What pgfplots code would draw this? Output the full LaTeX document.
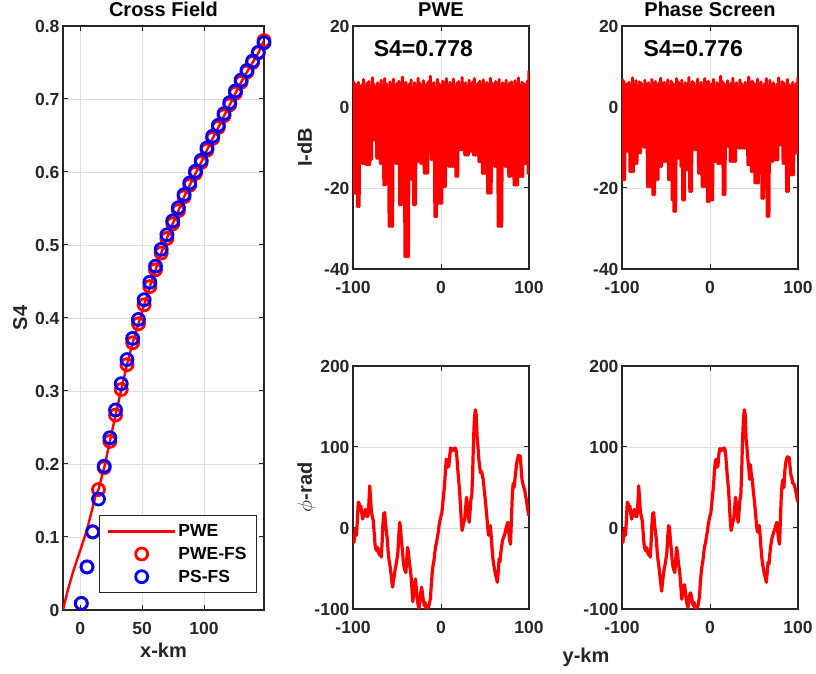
\documentclass[border=0pt]{standalone}
\usepackage{pgfplots}
\pgfplotsset{compat=1.18}
\usepackage{fontspec}
\setmainfont{Liberation Sans}
\definecolor{axgray}{RGB}{38,38,38}
\definecolor{gridgray}{RGB}{222,222,222}
\definecolor{mred}{RGB}{255,0,0}
\definecolor{mblue}{RGB}{0,0,255}
\pgfplotsset{
 mstyle/.style={
  scale only axis,
  axis line style={axgray, line width=1.2pt},
  tick style={axgray, line width=1pt},
  major tick length=5pt,
  tick align=inside,
  grid=major,
  major grid style={gridgray, line width=0.8pt},
  /pgf/number format/assume math mode=true,
  tick label style={font=\bfseries\fontsize{17.5}{20}\selectfont, text=axgray},
  label style={font=\bfseries\fontsize{20}{24}\selectfont, text=axgray},
  title style={font=\bfseries\fontsize{20}{24}\selectfont, text=black, anchor=base, at={(axis description cs:0.5,1)}, yshift=3pt},
  xticklabel style={anchor=base, yshift=-25pt},
 }
}
\begin{document}
\begin{tikzpicture}
\useasboundingbox (0pt,0pt) rectangle (816pt,674pt);
% ---------------- Cross Field ----------------
\begin{axis}[mstyle, at={(63pt,64pt)}, anchor=south west,
  width=201pt, height=584pt,
  xmin=-14, xmax=148.5, ymin=0, ymax=0.8,
  xtick={0,50,100}, ytick={0,0.1,0.2,0.3,0.4,0.5,0.6,0.7,0.8},
  yticklabels={0,0.1,0.2,0.3,0.4,0.5,0.6,0.7,0.8},
  title={Cross Field},
  xlabel={x-km}, ylabel={S4},
  xlabel style={at={(axis description cs:0.5,0)}, anchor=base, yshift=-48pt},
  ylabel style={at={(axis description cs:-0.179,0.5)}, anchor=base},
  legend style={at={(axis description cs:0.965,0.029)}, anchor=south east,
    draw=axgray, line width=1pt, fill=white,
    font=\bfseries\fontsize{17.5}{20}\selectfont, text=black,
    legend cell align=left, inner xsep=8pt, inner ysep=7pt, row sep=5pt},
  legend image code/.code={\draw[#1, mark repeat=2, mark phase=2] plot coordinates {(0pt,0pt) (33.5pt,0pt) (67pt,0pt)};},
]
\addplot[mred, line width=2.4pt, no marks, line join=round] coordinates {
(-14,0)(-10,0.028)(-5.4,0.055)(0,0.082)(5.4,0.11)(9.4,0.137)(12.6,0.158)(14.7,0.165)
(19.3,0.195)(23.9,0.231)(28.5,0.267)(33.1,0.302)(37.7,0.336)(42.3,0.366)(47.0,0.392)(51.6,0.418)(56.2,0.443)(60.8,0.466)(65.4,0.489)(70.0,0.509)(74.7,0.529)(79.3,0.547)(83.9,0.566)(88.5,0.582)(93.1,0.598)(97.7,0.613)(102.4,0.630)(107.0,0.646)(111.6,0.661)(116.2,0.677)(120.8,0.692)(125.4,0.708)(130.0,0.723)(134.7,0.737)(139.3,0.750)(143.9,0.763)(148.5,0.780)};
\addlegendentry{PWE}
\addplot[mred, only marks, mark=o, mark size=6pt, line width=2.8pt] coordinates {
(0.8,0.009)(5.4,0.059)(10.0,0.107)(14.7,0.165)(19.3,0.195)(23.9,0.231)(28.5,0.267)(33.1,0.302)(37.7,0.336)(42.3,0.366)(47.0,0.392)(51.6,0.418)(56.2,0.443)(60.8,0.466)(65.4,0.489)(70.0,0.509)(74.7,0.529)(79.3,0.547)(83.9,0.566)(88.5,0.582)(93.1,0.598)(97.7,0.613)(102.4,0.630)(107.0,0.646)(111.6,0.661)(116.2,0.677)(120.8,0.692)(125.4,0.708)(130.0,0.723)(134.7,0.737)(139.3,0.750)(143.9,0.763)(148.5,0.780)};
\addlegendentry{PWE-FS}
\addplot[mblue, only marks, mark=o, mark size=6pt, line width=2.8pt] coordinates {
(0.8,0.009)(5.4,0.059)(10.0,0.107)(14.7,0.152)(19.3,0.197)(23.9,0.236)(28.5,0.274)(33.1,0.310)(37.7,0.343)(42.3,0.372)(47.0,0.398)(51.6,0.425)(56.2,0.449)(60.8,0.471)(65.4,0.494)(70.0,0.514)(74.7,0.533)(79.3,0.551)(83.9,0.569)(88.5,0.585)(93.1,0.601)(97.7,0.616)(102.4,0.633)(107.0,0.649)(111.6,0.664)(116.2,0.680)(120.8,0.695)(125.4,0.711)(130.0,0.726)(134.7,0.739)(139.3,0.752)(143.9,0.764)(148.5,0.777)};
\addlegendentry{PS-FS}
\end{axis}
% ---------------- PWE intensity ----------------
\begin{axis}[mstyle, at={(353pt,405pt)}, anchor=south west,
  width=176pt, height=243pt,
  xmin=-100, xmax=100, ymin=-40, ymax=20,
  xtick={-100,0,100}, ytick={-40,-20,0,20},
  title={PWE}, ylabel={I-dB},
  ylabel style={at={(axis description cs:-0.233,0.5)}, anchor=base},
]
\addplot[mred, line width=3pt, line join=round, no marks] coordinates {
(-100,6.5)(-99,-21.3)(-98,5.8)(-97,-21.3)(-96,5.2)(-95,-24.6)(-94,6.1)(-93,-24.6)(-92,4.9)(-91,-10.6)(-90,5.5)(-89,-14)(-88,6.8)(-87,-14)(-86,5.0)(-85,-14.3)(-84,5.9)(-83,-14.3)(-82,6.3)(-81,-14.3)(-80,5.1)(-79,-13)(-78,7.2)(-77,-8.2)(-76,5.6)(-75,-8.2)(-74,4.8)(-73,-12.7)(-72,6.0)(-71,-12.7)(-70,5.4)(-69,-14)(-68,6.6)(-67,-14)(-66,5.3)(-65,-19.3)(-64,7.0)(-63,-19.3)(-62,5.7)(-61,-16.8)(-60,4.9)(-59,-29.5)(-58,6.2)(-57,-29.5)(-56,5.5)(-55,-29.5)(-54,6.9)(-53,-11.4)(-52,5.0)(-51,-14)(-50,5.8)(-49,-14)(-48,6.4)(-47,-24.2)(-46,5.2)(-45,-24.2)(-44,7.4)(-43,-16.4)(-42,5.6)(-41,-37)(-40,6.1)(-39,-37)(-38,5.0)(-37,-37)(-36,5.7)(-35,-10.6)(-34,6.7)(-33,-18)(-32,4.8)(-31,-24.2)(-30,6.0)(-29,-24.2)(-28,5.4)(-27,-13.5)(-26,7.1)(-25,-13.5)(-24,5.9)(-23,-14)(-22,5.3)(-21,-14)(-20,6.5)(-19,-16.4)(-18,5.1)(-17,-16.4)(-16,5.8)(-15,-16.4)(-14,6.3)(-13,-9.8)(-12,7.6)(-11,-13)(-10,5.5)(-9,-13)(-8,6.0)(-7,-27.1)(-6,4.9)(-5,-27.1)(-4,6.8)(-3,-23.8)(-2,5.7)(-1,-23.8)
(0,5.2)(1,-23.8)(2,6.4)(3,-19.7)(4,5.8)(5,-19.7)(6,7.0)(7,-10.6)(8,5.3)(9,-14.7)(10,6.1)(11,-14.7)(12,5.6)(13,-14.7)(14,6.9)(15,-14.7)(16,5.0)(17,-17.2)(18,5.9)(19,-17.2)(20,6.3)(21,-10.6)(22,5.4)(23,-10.6)(24,7.3)(25,-10.6)(26,5.7)(27,-11.9)(28,6.0)(29,-11.9)(30,5.1)(31,-11.9)(32,6.6)(33,-11)(34,5.5)(35,-11)(36,6.2)(37,-11.9)(38,7.0)(39,-11.9)(40,5.3)(41,-11.9)(42,5.8)(43,-13.5)(44,6.4)(45,-13.5)(46,5.0)(47,-16.4)(48,6.7)(49,-16.4)(50,5.6)(51,-16.4)(52,6.1)(53,-21.3)(54,5.2)(55,-21.3)(56,7.1)(57,-21.3)(58,5.9)(59,-9)(60,5.4)(61,-14.7)(62,6.3)(63,-14.7)(64,5.7)(65,-29.5)(66,6.8)(67,-29.5)(68,5.1)(69,-29.5)(70,6.0)(71,-12.3)(72,5.5)(73,-14.7)(74,6.6)(75,-14.7)(76,5.2)(77,-17.2)(78,5.9)(79,-17.2)(80,6.2)(81,-11.4)(82,5.0)(83,-19.3)(84,6.5)(85,-19.3)(86,5.6)(87,-19.3)(88,7.2)(89,-17.2)(90,5.3)(91,-17.2)(92,6.1)(93,-17.2)(94,5.8)(95,-14)(96,5.4)(97,-14)(98,6.4)(99,-16.4)(100,9.0)};
\node[font=\bfseries\fontsize{23}{26}\selectfont, text=black] at (axis cs:-20,14.5) {S4=0.778};
\end{axis}
% ---------------- Phase Screen intensity ----------------
\begin{axis}[mstyle, at={(622pt,405pt)}, anchor=south west,
  width=176pt, height=243pt,
  xmin=-100, xmax=100, ymin=-40, ymax=20,
  xtick={-100,0,100}, ytick={-40,-20,0,20},
  title={Phase Screen},
]
\addplot[mred, line width=3pt, line join=round, no marks] coordinates {
(-100,7.0)(-99,-18)(-98,6.4)(-97,-18)(-96,5.4)(-95,-11)(-94,5.8)(-93,-11)(-92,6.1)(-91,-16)(-90,5.3)(-89,-16)(-88,7.2)(-87,-16)(-86,5.6)(-85,-14)(-84,6.5)(-83,-14)(-82,5.0)(-81,-11.4)(-80,6.2)(-79,-11.4)(-78,5.9)(-77,-8.2)(-76,5.2)(-75,-10)(-74,6.6)(-73,-10)(-72,5.5)(-71,-19.7)(-70,6.0)(-69,-19.7)(-68,5.1)(-67,-19.7)(-66,6.8)(-65,-21.7)(-64,5.7)(-63,-21.7)(-62,6.3)(-61,-18)(-60,5.4)(-59,-18)(-58,5.9)(-57,-14.7)(-56,7.1)(-55,-14.7)(-54,5.2)(-53,-13.5)(-52,6.1)(-51,-13.5)(-50,5.6)(-49,-13.5)(-48,6.7)(-47,-18)(-46,5.0)(-45,-18)(-44,6.4)(-43,-23)(-42,5.8)(-41,-25.8)(-40,5.3)(-39,-25.8)(-38,7.0)(-37,-12.7)(-36,6.2)(-35,-12.7)(-34,5.5)(-33,-14.7)(-32,6.6)(-31,-23)(-30,5.1)(-29,-23)(-28,6.0)(-27,-15.6)(-26,5.7)(-25,-15.6)(-24,7.3)(-23,-20.9)(-22,5.4)(-21,-20.9)(-20,6.3)(-19,-10.6)(-18,5.9)(-17,-10.6)(-16,5.0)(-15,-10.6)(-14,6.9)(-13,-16.4)(-12,5.6)(-11,-16.4)(-10,6.1)(-9,-19.7)(-8,5.3)(-7,-19.7)(-6,7.0)(-5,-19.7)(-4,5.8)(-3,-23.4)(-2,6.4)(-1,-23.4)
(0,5.2)(1,-23)(2,5.7)(3,-23)(4,6.8)(5,-13.5)(6,4.9)(7,-13.5)(8,6.0)(9,-14)(10,5.5)(11,-14)(12,7.6)(13,-14)(14,6.3)(15,-21.7)(16,5.8)(17,-21.7)(18,5.1)(19,-9.8)(20,6.5)(21,-9.8)(22,5.3)(23,-13.5)(24,5.9)(25,-13.5)(26,7.1)(27,-13.5)(28,5.4)(29,-13.5)(30,6.0)(31,-10)(32,4.8)(33,-10.2)(34,6.7)(35,-10.2)(36,5.7)(37,-10.2)(38,5.0)(39,-10.2)(40,6.1)(41,-10.2)(42,5.6)(43,-14.3)(44,7.4)(45,-14.3)(46,5.2)(47,-16)(48,6.4)(49,-16)(50,5.8)(51,-18.8)(52,5.0)(53,-18.8)(54,6.9)(55,-18.8)(56,5.5)(57,-11)(58,6.2)(59,-22.6)(60,4.9)(61,-22.6)(62,5.7)(63,-12)(64,7.0)(65,-27.1)(66,5.3)(67,-27.1)(68,6.6)(69,-13.5)(70,5.4)(71,-13.5)(72,6.0)(73,-13.1)(74,4.8)(75,-13.1)(76,5.6)(77,-13.1)(78,7.2)(79,-9.4)(80,5.1)(81,-9.4)(82,6.3)(83,-14)(84,5.9)(85,-14)(86,5.0)(87,-20.9)(88,6.8)(89,-20.9)(90,5.5)(91,-16.8)(92,4.9)(93,-16.8)(94,6.1)(95,-16.8)(96,5.2)(97,-11.4)(98,5.8)(99,-11.4)(100,7.5)};
\node[font=\bfseries\fontsize{23}{26}\selectfont, text=black] at (axis cs:-19,14.5) {S4=0.776};
\end{axis}
% ---------------- PWE phase ----------------
\begin{axis}[mstyle, at={(353pt,65pt)}, anchor=south west,
  width=176pt, height=243pt,
  xmin=-100, xmax=100, ymin=-100, ymax=200,
  xtick={-100,0,100}, ytick={-100,0,100,200},
  ylabel={$\phi$-rad},
  ylabel style={at={(axis description cs:-0.233,0.5)}, anchor=base},
]
\addplot[mred, line width=3.2pt, line join=round, no marks] coordinates {
(-100,-10)(-99,-18)(-98,-8)(-97,-1)(-96,-9)(-95,10)(-94,32)(-93,30)(-92,22)(-91,27)(-90,18)(-89,11)(-88,18)(-87,15)(-86,23)(-85,20)(-84,14)(-83,15)(-82,30)(-81,52)(-80,35)(-79,19)(-78,14)(-77,9)(-76,-5)(-75,-20)(-74,-26)(-73,-28)(-72,-24)(-71,-30)(-70,-33)(-69,-28)(-68,-36)(-67,-20)(-66,5)(-65,18)(-64,19)(-63,5)(-62,-5)(-61,-14)(-60,-30)(-59,-40)(-58,-46)(-57,-55)(-56,-65)(-55,-73)(-54,-65)(-53,-58)(-52,-50)(-51,-45)(-50,-38)(-49,-30)(-48,-10)(-47,7)(-46,0)(-45,-15)(-44,-26)(-43,-40)(-42,-48)(-41,-52)(-40,-55)(-39,-40)(-38,-24)(-37,-30)(-36,-42)(-35,-50)(-34,-60)(-33,-75)(-32,-91)(-31,-80)(-30,-70)(-29,-63)(-28,-75)(-27,-88)(-26,-95)(-25,-100)(-24,-90)(-23,-80)(-22,-73)(-21,-82)(-20,-90)(-19,-96)(-18,-92)(-17,-100)(-16,-98)(-15,-100)(-14,-97)(-13,-92)(-12,-87)(-11,-70)(-10,-55)(-9,-46)(-8,-40)(-7,-30)(-6,-22)(-5,-18)(-4,-10)(-3,-5)(-2,5)(-1,10)
(0,15)(1,19)(2,30)(3,42)(4,52)(5,70)(6,85)(7,82)(8,75)(9,77)(10,90)(11,99)(12,95)(13,98)(14,97)(15,96)(16,99)(17,97)(18,88)(19,73)(20,60)(21,48)(22,30)(23,10)(24,-3)(25,2)(26,8)(27,11)(28,25)(29,38)(30,30)(31,15)(32,7)(33,20)(34,35)(35,40)(36,70)(37,110)(38,135)(39,146)(40,140)(41,113)(42,100)(43,85)(44,75)(45,68)(46,70)(47,65)(48,60)(49,48)(50,38)(51,27)(52,15)(53,2)(54,-9)(55,-5)(56,3)(57,-10)(58,-25)(59,-38)(60,-46)(61,-52)(62,-58)(63,-62)(64,-67)(65,-55)(66,-38)(67,-42)(68,-30)(69,-22)(70,-15)(71,-12)(72,-9)(73,-5)(74,0)(75,4)(76,7)(77,-5)(78,-15)(79,-20)(80,10)(81,40)(82,55)(83,50)(84,60)(85,70)(86,80)(87,85)(88,90)(89,87)(90,89)(91,75)(92,60)(93,55)(94,50)(95,48)(96,40)(97,35)(98,27)(99,20)(100,15)};
\end{axis}
% ---------------- Phase Screen phase ----------------
\begin{axis}[mstyle, at={(622pt,65pt)}, anchor=south west,
  width=176pt, height=243pt,
  xmin=-100, xmax=100, ymin=-100, ymax=200,
  xtick={-100,0,100}, ytick={-100,0,100,200},
]
\addplot[mred, line width=3.2pt, line join=round, no marks] coordinates {
(-100,-10)(-99,-18)(-98,-8)(-97,-1)(-96,-9)(-95,10)(-94,32)(-93,30)(-92,22)(-91,27)(-90,18)(-89,11)(-88,18)(-87,15)(-86,23)(-85,20)(-84,14)(-83,15)(-82,30)(-81,52)(-80,35)(-79,19)(-78,14)(-77,9)(-76,-5)(-75,-20)(-74,-26)(-73,-28)(-72,-24)(-71,-30)(-70,-33)(-69,-28)(-68,-36)(-67,-20)(-66,5)(-65,18)(-64,19)(-63,5)(-62,-5)(-61,-14)(-60,-30)(-59,-40)(-58,-48)(-57,-58)(-56,-68)(-55,-78)(-54,-68)(-53,-58)(-52,-50)(-51,-45)(-50,-38)(-49,-30)(-48,-10)(-47,3)(-46,0)(-45,-15)(-44,-26)(-43,-40)(-42,-48)(-41,-52)(-40,-55)(-39,-40)(-38,-24)(-37,-30)(-36,-42)(-35,-50)(-34,-60)(-33,-75)(-32,-88)(-31,-80)(-30,-72)(-29,-70)(-28,-78)(-27,-88)(-26,-95)(-25,-98)(-24,-90)(-23,-82)(-22,-80)(-21,-85)(-20,-92)(-19,-96)(-18,-92)(-17,-100)(-16,-98)(-15,-100)(-14,-97)(-13,-92)(-12,-85)(-11,-68)(-10,-55)(-9,-46)(-8,-40)(-7,-30)(-6,-22)(-5,-18)(-4,-10)(-3,-5)(-2,5)(-1,10)
(0,15)(1,19)(2,30)(3,42)(4,52)(5,70)(6,82)(7,85)(8,75)(9,77)(10,90)(11,98)(12,95)(13,98)(14,97)(15,96)(16,99)(17,97)(18,88)(19,73)(20,60)(21,48)(22,30)(23,10)(24,-3)(25,2)(26,8)(27,11)(28,25)(29,38)(30,30)(31,15)(32,7)(33,20)(34,35)(35,40)(36,70)(37,110)(38,135)(39,146)(40,140)(41,110)(42,100)(43,85)(44,75)(45,60)(46,78)(47,65)(48,60)(49,48)(50,38)(51,27)(52,15)(53,2)(54,-5)(55,-5)(56,3)(57,-10)(58,-25)(59,-38)(60,-46)(61,-52)(62,-58)(63,-62)(64,-67)(65,-55)(66,-42)(67,-45)(68,-32)(69,-22)(70,-15)(71,-10)(72,-7)(73,-3)(74,0)(75,4)(76,7)(77,-5)(78,-15)(79,-20)(80,10)(81,40)(82,55)(83,60)(84,50)(85,70)(86,80)(87,85)(88,88)(89,86)(90,87)(91,75)(92,65)(93,62)(94,55)(95,55)(96,52)(97,48)(98,42)(99,36)(100,32)};
\end{axis}
\node[anchor=base, font=\bfseries\fontsize{20}{24}\selectfont, text=axgray] at (586pt,11pt) {y-km};
\end{tikzpicture}
\end{document}
